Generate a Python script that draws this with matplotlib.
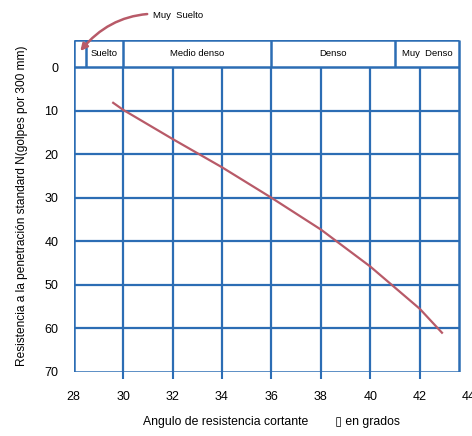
import matplotlib
matplotlib.use("Agg")
import matplotlib.pyplot as plt

plt.rcParams["font.family"] = ["Liberation Sans", "DejaVu Sans"]

# curve (angle in degrees, N blows)
PHI = [29.6, 30.0, 32.0, 34.0, 36.0, 38.0, 40.0, 42.0, 42.9]
N_BLOWS = [8.2, 9.8, 16.5, 23.0, 30.0, 37.3, 45.8, 55.5, 61.0]

X_TICKS = [28, 30, 32, 34, 36, 38, 40, 42, 44]
Y_TICKS = [0, 10, 20, 30, 40, 50, 60, 70]

# density classes in the header row
CLASS_EDGES = [28.5, 30, 36, 41]
CLASS_NAMES = ["Suelto", "Medio denso", "Denso", "Muy  Denso"]
CLASS_CENTERS = [29.25, 33.0, 38.5, 42.3]

BLUE = "#2c6db4"
RED = "#b85a68"
X_RIGHT = 43.6
Y_TOP = -6.2
Y_BOT = 70

fig = plt.figure(figsize=(4.72, 4.36), dpi=100)
ax = fig.add_axes([0.156, 0.147, 0.838, 0.761])
ax.set_xlim(28, 44)
ax.set_ylim(Y_BOT, Y_TOP)
for s in ax.spines.values():
    s.set_visible(False)

# grid
ax.vlines([30, 32, 34, 36, 38, 40, 42], 0, Y_BOT, color=BLUE, lw=1.6)
ax.hlines([10, 20, 30, 40, 50, 60], 28, X_RIGHT, color=BLUE, lw=1.6)
# outer box + header
ax.hlines([Y_TOP, 0, Y_BOT], 28, X_RIGHT, color=BLUE, lw=1.8)
ax.vlines([28, X_RIGHT], Y_TOP, Y_BOT, color=BLUE, lw=1.8)
ax.vlines(CLASS_EDGES, Y_TOP, 0, color=BLUE, lw=1.8)
for name, xc in zip(CLASS_NAMES, CLASS_CENTERS):
    ax.text(xc, Y_TOP / 2, name, ha="center", va="center", fontsize=6.8)

ax.plot(PHI, N_BLOWS, color=RED, lw=1.6)

ax.annotate("Muy  Suelto", xy=(28.2, -3.2), xytext=(31.2, -11.8),
            fontsize=6.8, va="center", ha="left", annotation_clip=False,
            arrowprops=dict(arrowstyle="-|>,head_length=0.6,head_width=0.3",
                            color=RED, lw=1.8,
                            connectionstyle="arc3,rad=0.3"))

ax.set_xticks(X_TICKS)
ax.set_yticks(Y_TICKS)
ax.tick_params(axis="x", length=5, width=1.5, color=BLUE, pad=9,
               labelsize=9)
ax.tick_params(axis="y", length=0, pad=11, labelsize=9)
# no tick marks at the box edges
for t in (ax.xaxis.get_major_ticks()[0], ax.xaxis.get_major_ticks()[-1]):
    t.tick1line.set_visible(False)

ax.set_xlabel("Angulo de resistencia cortante        \u25af en grados",
              fontsize=8.8, labelpad=9)
ax.set_ylabel("Resistencia a la penetración standard N(golpes por 300 mm)",
              fontsize=8.6, labelpad=12)

fig.savefig("out.png", dpi=100)
